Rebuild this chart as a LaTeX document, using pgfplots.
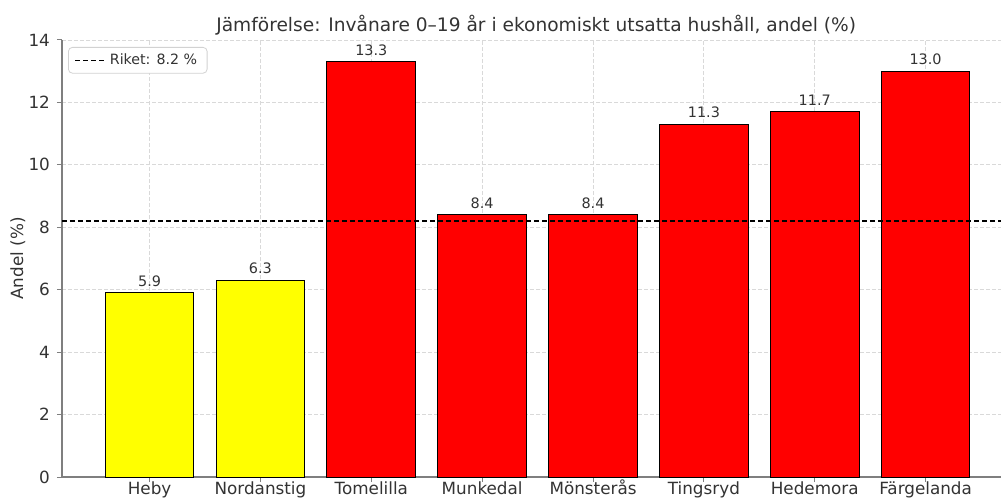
\documentclass[border=0pt]{standalone}
\usepackage{pgfplots}
\pgfplotsset{compat=1.18}
\usepackage{fontspec}
\setmainfont{DejaVu Sans}
\definecolor{txt}{HTML}{333333}
\definecolor{gridc}{HTML}{D9D9D9}
\definecolor{spine}{HTML}{7F7F7F}
\begin{document}
\begin{tikzpicture}
\begin{axis}[
  width=469.5pt, height=218.5pt, scale only axis,
  xmin=-0.79, xmax=7.68, ymin=0, ymax=14,
  ytick={0,2,...,14},
  xtick={0,...,7},
  xticklabels={Heby,Nordanstig,Tomelilla,Munkedal,Mönsterås,Tingsryd,Hedemora,Färgelanda},
  axis x line*=bottom, axis y line*=left,
  axis line style={spine, line width=0.6pt, -},
  tick align=outside, major tick length=2.5pt,
  tick style={spine, line width=0.5pt},
  grid=major,
  major grid style={gridc, dash pattern=on 2pt off 1pt, line width=0.4pt},
  /pgf/number format/assume math mode=true,
  ticklabel style={font=\fontsize{8.4}{10}\selectfont, text=txt},
  xticklabel style={anchor=base, yshift=-6.3pt},
  ylabel={Andel (\%)},
  ylabel style={at={(axis description cs:-0.0469,0.5)}, rotate=0, anchor=center, font=\fontsize{8.4}{10}\selectfont, text=txt},
  title={Jämförelse: Invånare 0–19 år i ekonomiskt utsatta hushåll, andel (\%)},
  title style={at={(axis description cs:0.505,1)}, anchor=base, yshift=-2pt, font=\fontsize{9.3}{11}\selectfont, text=txt},
  legend style={at={(axis description cs:0.0064,0.984)}, anchor=north west, draw=gray!35, rounded corners=2pt, font=\fontsize{7.1}{9}\selectfont, text=txt, inner xsep=3pt, inner ysep=1pt},
  legend cell align=left,
  legend image code/.code={\draw[#1] (0pt,0pt) -- (15pt,0pt);},
  every node near coord/.append style={font=\fontsize{7.2}{9}\selectfont, text=txt, yshift=-0.5pt},
  nodes near coords={\pgfmathprintnumber[fixed,fixed zerofill,precision=1]{\pgfplotspointmeta}},
]
\addplot[ybar, bar width=0.8, bar shift=0pt, fill={rgb,255:red,255;green,255;blue,0}, draw=black, line width=0.5pt, forget plot]
  coordinates {(0,5.9) (1,6.3)};
\addplot[ybar, bar width=0.8, bar shift=0pt, fill={rgb,255:red,255;green,0;blue,0}, draw=black, line width=0.5pt, forget plot]
  coordinates {(2,13.3) (3,8.4) (4,8.4) (5,11.3) (6,11.7) (7,13.0)};
\addplot[black, line width=0.75pt, dash pattern=on 2.6pt off 1.4pt, nodes near coords={}, sharp plot]
  coordinates {(-0.79,8.2) (7.68,8.2)};
\addlegendentry{Riket: 8.2 \%}
\end{axis}
\pgfresetboundingbox
\path[use as bounding box] (-31pt,-10.5pt) rectangle (469.5pt,238.5pt);
\end{tikzpicture}
\end{document}
